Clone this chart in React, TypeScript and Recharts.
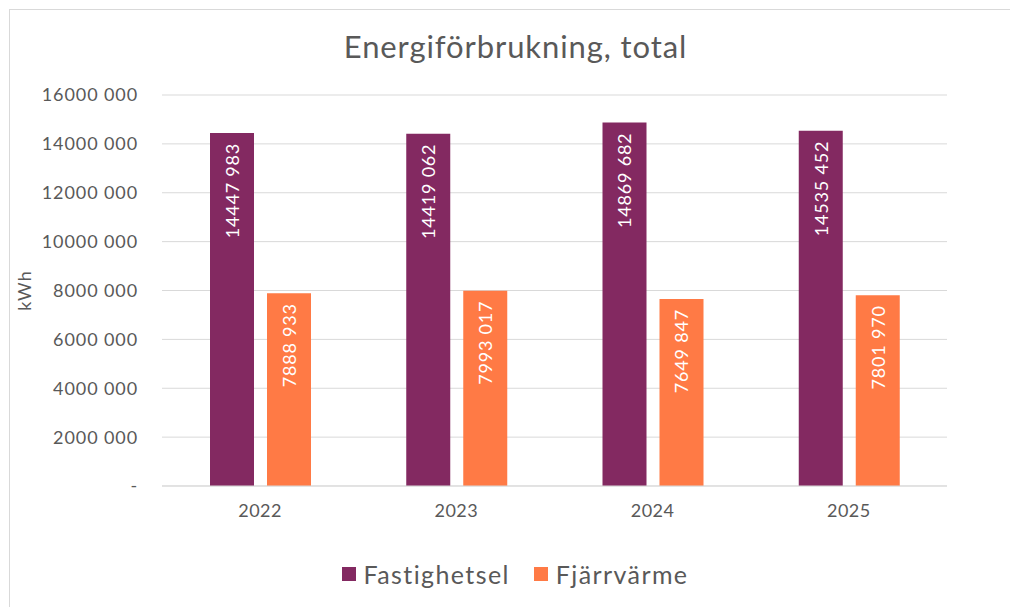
import { BarChart, Bar, XAxis, YAxis, CartesianGrid, Legend, LabelList } from "recharts";

const years = ["2022", "2023", "2024", "2025"];
const fastighetsel = [14447983, 14419062, 14869682, 14535452];
const fjarrvarme = [7888933, 7993017, 7649847, 7801970];
const yTicks = [0, 2000000, 4000000, 6000000, 8000000, 10000000, 12000000, 14000000, 16000000];

const data = years.map((year, i) => ({
  year,
  fastighetsel: fastighetsel[i],
  fjarrvarme: fjarrvarme[i],
}));

const FONT = "Lato, sans-serif";
const TEXT = "#595959";
const PURPLE = "#832961";
const ORANGE = "#FF7A45";

// Excel-ish format: "14447 983", zero shown as "-"
const fmt = (v: number) => {
  if (v === 0) return "-";
  const rest = String(v % 1000).padStart(3, "0");
  return `${Math.floor(v / 1000)} ${rest}`;
};

const BarValue = (props: any) => {
  const { x, y, width, value } = props;
  const cx = Number(x) + Number(width) / 2;
  const ty = Number(y) + 10;
  return (
    <text
      x={cx}
      y={ty}
      transform={`rotate(-90, ${cx}, ${ty})`}
      textAnchor="end"
      dominantBaseline="central"
      fill="#ffffff"
      fontSize={18}
      fontFamily={FONT}
      letterSpacing={0.8}
    >
      {fmt(value)}
    </text>
  );
};

const LegendBox = (props: any) => (
  <div
    style={{
      display: "flex",
      justifyContent: "center",
      alignItems: "center",
      gap: 24,
      fontFamily: FONT,
      fontSize: 25,
      letterSpacing: 1.4,
      color: TEXT,
    }}
  >
    {(props.payload || []).map((p: any) => (
      <div key={p.value} style={{ display: "flex", alignItems: "center" }}>
        <span style={{ width: 14, height: 14, background: p.color, display: "inline-block", marginRight: 8 }} />
        {p.value}
      </div>
    ))}
  </div>
);

export default function App() {
  return (
    <div
      style={{
        position: "absolute",
        top: 9,
        left: 9,
        width: 1000,
        height: 597,
        borderTop: "1px solid #d9d9d9",
        borderLeft: "1px solid #d9d9d9",
        background: "#ffffff",
      }}
    >
      <div
        style={{
          position: "absolute",
          top: 17,
          left: 5,
          width: 1001,
          textAlign: "center",
          fontFamily: FONT,
          fontSize: 31,
          letterSpacing: 0.9,
          color: TEXT,
        }}
      >
        Energiförbrukning, total
      </div>
      <BarChart
        width={1000}
        height={597}
        data={data}
        margin={{ top: 85, right: 63, left: 0, bottom: 91 }}
        barCategoryGap={48}
        barGap={13}
      >
        <CartesianGrid vertical={false} stroke="#d9d9d9" />
        <XAxis
          dataKey="year"
          height={30}
          tickLine={false}
          axisLine={{ stroke: "#d9d9d9" }}
          tickSize={0}
          tickMargin={18}
          tick={{ fill: TEXT, fontSize: 18, fontFamily: FONT, letterSpacing: 0.5 }}
        />
        <YAxis
          width={152}
          domain={[0, 16000000]}
          ticks={yTicks}
          interval={0}
          tickFormatter={fmt}
          tickLine={false}
          axisLine={false}
          tickSize={0}
          tickMargin={24}
          tick={{ fill: TEXT, fontSize: 18, fontFamily: FONT, letterSpacing: 0.9 }}
          label={{
            value: "kWh",
            angle: -90,
            position: "insideLeft",
            offset: 15,
            style: { fill: TEXT, fontSize: 18, fontFamily: FONT, textAnchor: "middle", letterSpacing: 1 },
          }}
        />
        <Legend
          layout="horizontal"
          verticalAlign="middle"
          align="center"
          wrapperStyle={{ top: 549, left: 0, width: 1010 }}
          content={<LegendBox />}
        />
        <Bar dataKey="fastighetsel" name="Fastighetsel" fill={PURPLE} isAnimationActive={false}>
          <LabelList dataKey="fastighetsel" content={<BarValue />} />
        </Bar>
        <Bar dataKey="fjarrvarme" name="Fjärrvärme" fill={ORANGE} isAnimationActive={false}>
          <LabelList dataKey="fjarrvarme" content={<BarValue />} />
        </Bar>
      </BarChart>
    </div>
  );
}
